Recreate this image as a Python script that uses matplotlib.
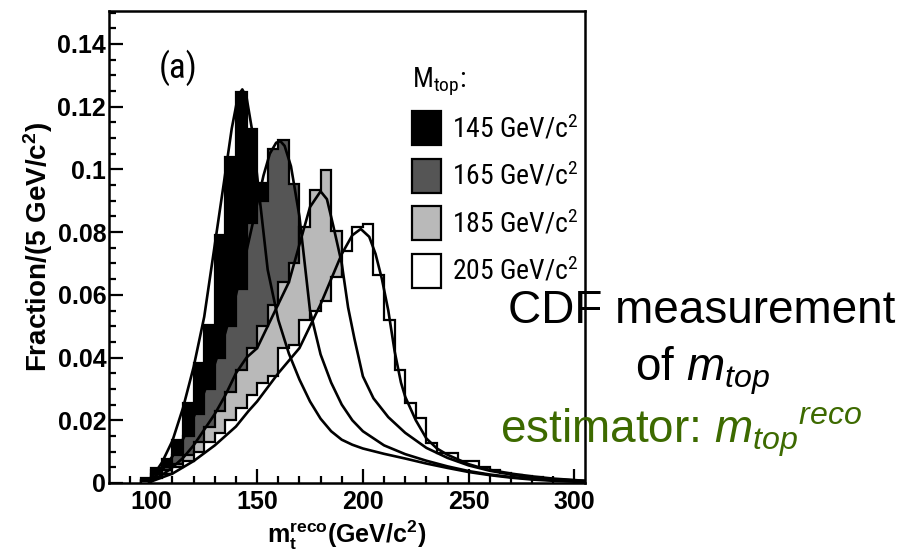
import matplotlib
matplotlib.use("Agg")
import matplotlib.pyplot as plt
from matplotlib import font_manager
from matplotlib.patches import Patch

# ----------------------------
# Datos
# ----------------------------
bin_edges = list(range(95, 310, 5))

# histogramas, bins de 5 GeV desde 95
hist_145 = [0.0008, 0.0047, 0.0077, 0.0137, 0.0254, 0.0382, 0.0504, 0.079, 0.104, 0.1248,
            0.1128, 0.0957, 0.070, 0.052, 0.040, 0.032, 0.025, 0.020, 0.016, 0.013,
            0.012, 0.011, 0.010, 0.009, 0.008, 0.007, 0.0065, 0.006, 0.005, 0.0045,
            0.004, 0.0035, 0.003, 0.0025, 0.002, 0.0018, 0.0015, 0.0012, 0.001, 0.0008,
            0.0006, 0.0005]
hist_165 = [0.0016, 0.003, 0.005, 0.009, 0.015, 0.022, 0.030, 0.040, 0.050, 0.062,
            0.083, 0.090, 0.1064, 0.1095, 0.0953, 0.072, 0.050, 0.038, 0.030, 0.024,
            0.020, 0.016, 0.014, 0.012, 0.010, 0.009, 0.008, 0.007, 0.006, 0.005,
            0.0045, 0.004, 0.0035, 0.003, 0.0025, 0.002, 0.0017, 0.0014, 0.0011, 0.0009,
            0.0007, 0.0005]
hist_185 = [0.0008, 0.002, 0.004, 0.006, 0.009, 0.013, 0.018, 0.023, 0.029, 0.036,
            0.043, 0.050, 0.0567, 0.064, 0.070, 0.0817, 0.0934, 0.0998, 0.0803, 0.065,
            0.048, 0.037, 0.028, 0.022, 0.017, 0.013, 0.010, 0.008, 0.0065, 0.0055,
            0.0045, 0.004, 0.0033, 0.0027, 0.0022, 0.0018, 0.0015, 0.0012, 0.001, 0.0008,
            0.0006, 0.0005]
hist_205 = [0.0005, 0.0015, 0.003, 0.005, 0.007, 0.010, 0.013, 0.016, 0.020, 0.024,
            0.028, 0.032, 0.034, 0.043, 0.044, 0.052, 0.055, 0.058, 0.0658, 0.074,
            0.0816, 0.0826, 0.0663, 0.052, 0.036, 0.0255, 0.0207, 0.0127, 0.0096, 0.0096,
            0.0071, 0.0071, 0.005, 0.004, 0.0033, 0.0027, 0.0022, 0.0018, 0.0014, 0.0011,
            0.0008, 0.0006]

# curvas de ajuste
fit_145_x = [99, 100, 105, 110, 115, 120, 125, 130, 135, 138, 141, 143, 145, 147.5, 150,
             155, 160, 165, 170, 175, 180, 185, 190, 195, 200, 210, 220, 230, 240, 250,
             260, 270, 280, 290, 305]
fit_145_y = [0.0, 0.0015, 0.0065, 0.0135, 0.024, 0.037, 0.053, 0.076, 0.099, 0.113, 0.1235,
             0.1255, 0.123, 0.113, 0.098, 0.068, 0.052, 0.0413, 0.033, 0.026, 0.0205, 0.0165,
             0.0138, 0.0122, 0.0110, 0.0093, 0.0078, 0.0062, 0.0048, 0.0035, 0.0025, 0.0017,
             0.0011, 0.0007, 0.0003]
fit_165_x = [99, 100, 105, 110, 115, 120, 125, 130, 135, 140, 145, 150, 153, 156, 159, 161,
             163, 166, 170, 175, 180, 185, 190, 195, 200, 210, 220, 230, 240, 250, 260, 270,
             280, 290, 305]
fit_165_y = [0.0, 0.001, 0.004, 0.0085, 0.014, 0.021, 0.029, 0.038, 0.048, 0.060, 0.074,
             0.089, 0.098, 0.105, 0.1085, 0.109, 0.1075, 0.101, 0.085, 0.055, 0.041, 0.032,
             0.025, 0.020, 0.0165, 0.012, 0.0092, 0.0071, 0.0053, 0.0038, 0.0027, 0.0019,
             0.0013, 0.0009, 0.0004]
fit_185_x = [99, 100, 105, 110, 115, 120, 125, 130, 135, 140, 145, 150, 155, 160, 165, 170,
             175, 180, 183, 186, 190, 193, 196, 200, 205, 212, 220, 230, 240, 250, 260, 270,
             280, 290, 305]
fit_185_y = [0.0, 0.0008, 0.0025, 0.005, 0.008, 0.012, 0.017, 0.022, 0.028, 0.035, 0.040,
             0.043, 0.050, 0.057, 0.064, 0.076, 0.088, 0.093, 0.0905, 0.082, 0.070, 0.056,
             0.046, 0.034, 0.027, 0.021, 0.016, 0.0112, 0.0080, 0.0056, 0.0039, 0.0027,
             0.0018, 0.0012, 0.0006]
fit_205_x = [100, 110, 120, 130, 140, 146, 150, 160, 170, 175, 180, 185, 190, 195, 199, 203,
             206, 209, 212, 215, 218, 220, 225, 230, 235, 240, 250, 255, 260, 270, 280, 290,
             305]
fit_205_y = [0.0005, 0.003, 0.007, 0.012, 0.018, 0.023, 0.026, 0.035, 0.043, 0.050, 0.057,
             0.065, 0.073, 0.079, 0.081, 0.0785, 0.073, 0.065, 0.055, 0.042, 0.032, 0.0275,
             0.020, 0.0142, 0.011, 0.009, 0.006, 0.005, 0.0042, 0.003, 0.0021, 0.0014, 0.0007]

masas = ["145", "165", "185", "205"]
y_ticks = [0, 0.02, 0.04, 0.06, 0.08, 0.1, 0.12, 0.14]
y_tick_labels = ["0", "0.02", "0.04", "0.06", "0.08", "0.1", "0.12", "0.14"]
x_ticks = [100, 150, 200, 250, 300]
x_tick_labels = ["100", "150", "200", "250", "300"]

COLORES = ["#000000", "#555555", "#b9b9b9", "#ffffff"]

# ----------------------------
# Fuentes
# ----------------------------
nombres = {f.name for f in font_manager.fontManager.ttflist}
ESTRECHA = "Liberation Sans"
for cand in ["Liberation Sans Narrow", "Roboto Condensed", "Open Sans Condensed"]:
    if cand in nombres:
        ESTRECHA = cand
        break
TAM_LEYENDA = 18 if ESTRECHA == "Liberation Sans" else 20

plt.rcParams["font.family"] = ["Liberation Sans", "DejaVu Sans"]
plt.rcParams["mathtext.fontset"] = "custom"
plt.rcParams["mathtext.rm"] = ESTRECHA
plt.rcParams["mathtext.it"] = "Liberation Sans:italic"
plt.rcParams["mathtext.bf"] = "Liberation Sans:bold"

# ----------------------------
# Figura
# ----------------------------
fig = plt.figure(figsize=(9.1, 5.53), dpi=100)
ax = fig.add_axes([0.1198, 0.1266, 0.5231, 0.8535])

hists = [hist_145, hist_165, hist_185, hist_205]
for vals, col in zip(hists, COLORES):
    ax.stairs(vals, bin_edges, fill=True, facecolor=col, edgecolor="black",
              linewidth=1.6)

for fx, fy in [(fit_145_x, fit_145_y), (fit_165_x, fit_165_y),
               (fit_185_x, fit_185_y), (fit_205_x, fit_205_y)]:
    ax.plot(fx, fy, color="black", linewidth=1.9, zorder=5)

ax.set_xlim(80, 305)
ax.set_ylim(0, 0.1505)

ax.set_xticks(x_ticks)
ax.set_xticklabels(x_tick_labels)
ax.set_xticks(list(range(90, 305, 10)), minor=True)
ax.set_yticks(y_ticks)
ax.set_yticklabels(y_tick_labels)
ax.set_yticks([i * 0.005 for i in range(31)], minor=True)

ax.tick_params(which="both", direction="in", top=False, right=False, width=1.6)
ax.tick_params(which="major", length=10)
ax.tick_params(which="minor", length=5)
ax.tick_params(axis="y", which="major", pad=2, labelsize=18)
ax.tick_params(axis="x", which="major", pad=5, labelsize=18)
for lab in ax.get_xticklabels() + ax.get_yticklabels():
    lab.set_fontweight("bold")
for sp in ax.spines.values():
    sp.set_linewidth(1.8)

ax.set_xlabel(r"$\mathbf{m}_{\mathbf{t}}^{\mathbf{reco}}$(GeV/c$^{\mathbf{2}}$)",
              fontsize=18, fontweight="bold", labelpad=3)
ax.set_ylabel(r"Fraction/(5 GeV/c$^{\mathbf{2}}$)", fontsize=20, fontweight="bold",
              labelpad=2)

ax.text(0.105, 0.858, "(a)", transform=ax.transAxes, fontsize=25, family=ESTRECHA)

handles = [Patch(facecolor=c, edgecolor="black", linewidth=1.6) for c in COLORES]
etiquetas = [m + " GeV/c$^2$" for m in masas]
fs_px = TAM_LEYENDA * 100 / 72.0
leg = ax.legend(handles, etiquetas, title=r"M$_{\mathrm{top}}$:", loc="upper left",
                bbox_to_anchor=(0.636, 0.885), frameon=False, borderpad=0,
                borderaxespad=0, handlelength=29 / fs_px,
                handleheight=(34 / fs_px - 0.245) / 0.65,
                handletextpad=0.4, labelspacing=13.5 / fs_px, alignment="left",
                prop={"family": ESTRECHA, "size": TAM_LEYENDA},
                title_fontproperties={"family": ESTRECHA, "size": TAM_LEYENDA})

# texto de la diapositiva
fig.text(0.7714, 0.4159, "CDF measurement", ha="center", va="baseline", fontsize=33,
         zorder=1)
fig.text(0.7714, 0.3128, r"of $m_{top}$", ha="center", va="baseline", fontsize=33,
         zorder=1)
fig.text(0.5495, 0.199, r"estimator: $m_{top}{}^{reco}$", ha="left", va="baseline",
         fontsize=33, color="#3d6a00", zorder=1)

fig.savefig("out.png", dpi=100)
